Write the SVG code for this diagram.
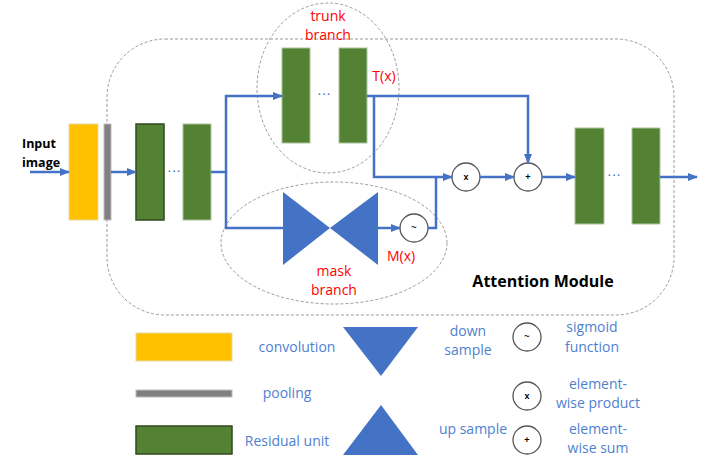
<svg xmlns="http://www.w3.org/2000/svg" width="718" height="458" viewBox="0 0 718 458">
<style>
.dash{fill:none;stroke:#9a9a9a;stroke-width:1;stroke-dasharray:3,2}
.ln{fill:none;stroke:#4472C4;stroke-width:2.5}
.g{fill:#548235;stroke:#a9c39a;stroke-width:1}
.gd{fill:#548235;stroke:#2f4a1e;stroke-width:1.5}
.y{fill:#FFC000;stroke:#e6d9a8;stroke-width:1}
.p{fill:#808080;stroke:#bbbbbb;stroke-width:1}
.tri{fill:#4472C4}
.op{fill:#fff;stroke:#555;stroke-width:1.3}
.opt{font-family:"Liberation Sans",Arial,sans-serif;font-size:9px;font-weight:bold;fill:#000;text-anchor:middle}
.red{font-family:"Open Sans","Liberation Sans",sans-serif;font-size:14px;fill:#FF0000;text-anchor:middle}
.leg{font-family:"Open Sans","Liberation Sans",sans-serif;font-size:14px;fill:#4F7FD0;text-anchor:middle}
.bold{font-family:"Open Sans","Liberation Sans",sans-serif;font-weight:bold;fill:#000}
.dots{font-family:"Liberation Sans",sans-serif;font-size:14px;fill:#4472C4;text-anchor:middle}
</style>
<defs>
<marker id="ah" markerWidth="10" markerHeight="8" refX="9" refY="4" orient="auto" markerUnits="userSpaceOnUse">
<path d="M0,0 L10,4 L0,8 Z" fill="#4472C4"/>
</marker>
</defs>

<g id="attention-module">
<rect class="dash" x="107" y="39" width="567" height="276" rx="58" ry="58"/>
<text class="bold" x="543" y="287" font-size="16" text-anchor="middle">Attention Module</text>
</g>
<g id="trunk-branch">
<ellipse class="dash" cx="328" cy="88" rx="71" ry="85"/>
<text class="red" x="328" y="21">trunk</text>
<text class="red" x="328" y="40">branch</text>
<rect class="g" x="282" y="48" width="28" height="95"/>
<text class="dots" x="324" y="98">···</text>
<rect class="g" x="339" y="48" width="28" height="95"/>
<text class="red" x="384" y="81">T(x)</text>
</g>
<g id="mask-branch">
<ellipse class="dash" cx="334" cy="243" rx="113" ry="61"/>
<path class="tri" d="M283,192 L283,265 L330,228 Z"/>
<path class="tri" d="M378,192 L378,265 L330,228 Z"/>
<text class="red" x="334" y="276">mask</text>
<text class="red" x="334" y="295">branch</text>
<text class="red" x="401" y="261">M(x)</text>
</g>
<g id="input">
<text class="bold" x="22" y="148" font-size="12.5">Input</text>
<text class="bold" x="22" y="167" font-size="12.5">image</text>
</g>
<g id="conv"><rect class="y" x="69" y="124" width="29" height="96"/></g>
<g id="pool"><rect class="p" x="104" y="124" width="7" height="96"/></g>
<g id="res1"><rect class="gd" x="136" y="124" width="28" height="96"/></g>
<text class="dots" x="174" y="175">···</text>
<g id="res2"><rect class="g" x="183" y="124" width="28" height="96"/></g>
<g id="sigmoid"><circle class="op" cx="414" cy="228" r="14"/><text class="opt" x="414" y="230">~</text></g>
<g id="product"><circle class="op" cx="466" cy="177" r="14"/><text class="opt" x="466" y="180">x</text></g>
<g id="sum"><circle class="op" cx="528" cy="177" r="14"/><text class="opt" x="528" y="180">+</text></g>
<g id="res3"><rect class="g" x="575" y="128" width="29" height="96"/></g>
<text class="dots" x="614" y="179">···</text>
<g id="res4"><rect class="g" x="632" y="128" width="28" height="96"/></g>

<g id="connectors">
<path class="ln" d="M30,172 L69,172" marker-end="url(#ah)"/>
<path class="ln" d="M111,172 L136,172" marker-end="url(#ah)"/>
<path class="ln" d="M211,172 L226,172 L226,96 L282,96" marker-end="url(#ah)"/>
<path class="ln" d="M226,172 L226,228 L283,228"/>
<path class="ln" d="M378,228 L400,228" marker-end="url(#ah)"/>
<path class="ln" d="M367,96 L528,96 L528,163" marker-end="url(#ah)"/>
<path class="ln" d="M374,96 L374,177 L452,177" marker-end="url(#ah)"/>
<path class="ln" d="M428,228 L436,228 L436,177"/>
<path class="ln" d="M480,177 L514,177" marker-end="url(#ah)"/>
<path class="ln" d="M542,177 L575,177" marker-end="url(#ah)"/>
<path class="ln" d="M660,177 L697,177" marker-end="url(#ah)"/>
</g>

<g id="legend">
<rect class="y" x="136" y="333" width="96" height="28"/>
<text class="leg" x="297" y="352">convolution</text>
<rect class="p" x="136" y="390" width="96" height="7"/>
<text class="leg" x="287" y="398">pooling</text>
<rect class="gd" x="136" y="426" width="96" height="28"/>
<text class="leg" x="287" y="446">Residual unit</text>
<path class="tri" d="M343,327 L418,327 L381,376 Z"/>
<path class="tri" d="M381,405 L418,455 L343,455 Z"/>
<text class="leg" x="468" y="336">down</text>
<text class="leg" x="468" y="355">sample</text>
<text class="leg" x="473" y="434">up sample</text>
<circle class="op" cx="527" cy="337" r="14"/><text class="opt" x="527" y="339">~</text>
<circle class="op" cx="527" cy="396" r="14"/><text class="opt" x="527" y="399">x</text>
<circle class="op" cx="527" cy="440" r="14"/><text class="opt" x="527" y="443">+</text>
<text class="leg" x="592" y="332">sigmoid</text>
<text class="leg" x="592" y="352">function</text>
<text class="leg" x="598" y="389">element-</text>
<text class="leg" x="598" y="408">wise product</text>
<text class="leg" x="598" y="434">element-</text>
<text class="leg" x="598" y="453">wise sum</text>
</g>
</svg>
